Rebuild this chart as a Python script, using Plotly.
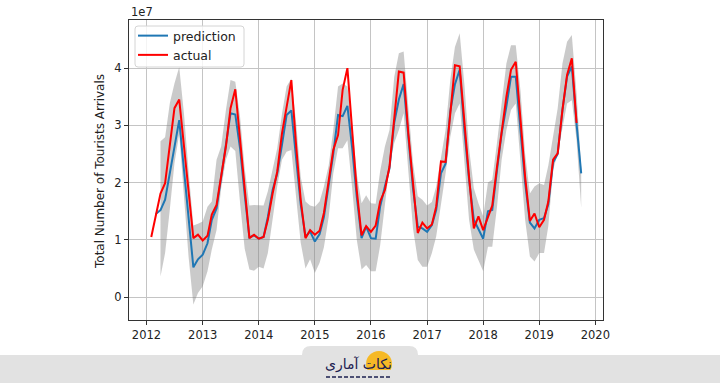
import pandas as pd
import plotly.graph_objects as go

# ---------------- data (values in units of 1e7) ----------------
ACTUAL_START = "2012-02-01"
PRED_START = "2012-03-01"
BAND_START = "2012-04-01"

actual = [
    1.05, 1.42, 1.81, 1.99, 2.65, 3.30, 3.45, 2.63, 1.84, 1.03, 1.09,            # 2012 Feb-Dec
    0.99, 1.07, 1.44, 1.61, 2.10, 2.63, 3.30, 3.63, 2.76, 1.90, 1.03, 1.09,      # 2013
    1.02, 1.05, 1.35, 1.81, 2.19, 2.86, 3.33, 3.79, 2.65, 1.70, 1.03, 1.17,      # 2014
    1.09, 1.16, 1.47, 1.99, 2.57, 2.83, 3.62, 4.00, 2.84, 1.86, 1.08, 1.24,      # 2015
    1.14, 1.25, 1.67, 1.87, 2.28, 3.09, 3.94, 3.92, 2.85, 2.00, 1.12, 1.30,      # 2016
    1.20, 1.27, 1.58, 2.37, 2.36, 3.21, 4.05, 4.03, 3.00, 2.10, 1.20, 1.41,      # 2017
    1.17, 1.41, 1.60, 2.28, 2.92, 3.50, 3.97, 4.11, 3.10, 2.10, 1.33, 1.46,      # 2018
    1.22, 1.35, 1.67, 2.40, 2.51, 3.27, 3.88, 4.17, 3.04,                        # 2019 Jan-Sep
]

prediction = [
    1.45, 1.52, 1.70, 2.16, 2.63, 3.09, 2.22, 1.38, 0.52, 0.66,                  # 2012 Mar-Dec
    0.74, 0.94, 1.35, 1.55, 2.10, 2.65, 3.21, 3.19, 2.60, 1.80, 1.04, 1.08,      # 2013
    1.02, 1.05, 1.40, 1.87, 2.16, 2.66, 3.18, 3.26, 2.45, 1.62, 1.05, 1.15,      # 2014
    0.97, 1.10, 1.40, 1.93, 2.50, 3.18, 3.16, 3.34, 2.60, 1.75, 1.03, 1.23,      # 2015
    1.03, 1.02, 1.58, 1.93, 2.25, 3.05, 3.45, 3.72, 2.75, 1.90, 1.23, 1.20,      # 2016
    1.14, 1.26, 1.52, 2.16, 2.33, 3.25, 3.72, 3.97, 2.90, 2.05, 1.35, 1.20,      # 2017
    1.02, 1.50, 1.52, 2.22, 2.86, 3.33, 3.85, 3.85, 2.95, 2.00, 1.30, 1.20,      # 2018
    1.35, 1.38, 1.62, 2.35, 2.50, 3.27, 3.85, 4.03, 3.02, 2.16,                  # 2019 Jan-Oct
]

band_upper = [
    2.72, 2.79, 3.39, 3.73, 4.02, 3.20, 2.20, 1.25, 1.28,                        # 2012 Apr-Dec
    1.32, 1.58, 1.67, 2.40, 2.63, 3.27, 3.79, 3.76, 3.15, 2.25, 1.60, 1.61,      # 2013
    1.61, 1.60, 1.85, 2.25, 2.60, 3.20, 3.68, 3.82, 3.05, 2.10, 1.67, 1.60,      # 2014
    1.58, 1.67, 1.93, 2.30, 2.92, 3.68, 3.73, 3.68, 3.00, 2.15, 1.64, 1.78,      # 2015
    1.64, 1.63, 2.20, 2.63, 2.92, 3.85, 4.26, 4.29, 3.30, 2.35, 1.76, 1.70,      # 2016
    1.60, 1.66, 1.93, 2.40, 2.92, 3.80, 4.37, 4.61, 3.70, 2.60, 1.90, 1.64,      # 2017
    1.41, 2.00, 2.05, 2.70, 3.40, 4.08, 4.40, 4.40, 3.60, 2.50, 1.81, 1.93,      # 2018
    1.99, 1.96, 2.30, 2.80, 3.30, 4.08, 4.46, 4.58, 3.55, 2.25,                  # 2019 Jan-Oct
]

band_lower = [
    0.36, 0.77, 1.54, 2.34, 2.85, 1.80, 0.70, -0.13, 0.07,                       # 2012 Apr-Dec
    0.19, 0.45, 0.83, 1.17, 1.90, 2.40, 2.63, 2.55, 1.65, 0.85, 0.48, 0.46,      # 2013
    0.53, 0.50, 0.77, 1.35, 1.93, 2.40, 2.54, 2.57, 1.80, 0.95, 0.50, 0.66,      # 2014
    0.42, 0.60, 0.87, 1.40, 2.16, 2.60, 2.60, 2.74, 1.90, 1.00, 0.48, 0.56,      # 2015
    0.45, 0.45, 0.90, 1.60, 2.30, 2.69, 2.92, 3.21, 2.15, 1.20, 0.65, 0.53,      # 2016
    0.53, 0.77, 1.06, 1.58, 2.16, 2.80, 3.21, 3.38, 2.30, 1.35, 0.83, 0.65,      # 2017
    0.45, 0.88, 0.88, 1.58, 2.40, 2.92, 3.27, 3.38, 2.35, 1.35, 0.71, 0.62,      # 2018
    0.77, 0.77, 1.24, 2.22, 2.51, 2.98, 3.38, 3.44, 2.74, 1.56,                  # 2019 Jan-Oct
]

year_ticks = ["2012", "2013", "2014", "2015", "2016", "2017", "2018", "2019", "2020"]
y_ticks = [0, 1, 2, 3, 4]

x_actual = pd.date_range(ACTUAL_START, periods=len(actual), freq="MS")
x_pred = pd.date_range(PRED_START, periods=len(prediction), freq="MS")
x_band = pd.date_range(BAND_START, periods=len(band_upper), freq="MS")

# ---------------- layout geometry ----------------
W, H = 720, 383
L, R, T, B = 129, 603, 20, 320
PW, PH = R - L, B - T


def px(X):
    return (X - L) / PW


def py(Y):
    return (B - Y) / PH


FONT = "DejaVu Sans"
fig = go.Figure()

# confidence band
fig.add_trace(go.Scatter(x=list(x_band), y=band_upper, mode="lines",
                         line=dict(width=0, color="rgba(0,0,0,0)"),
                         showlegend=False, hoverinfo="skip"))
fig.add_trace(go.Scatter(x=list(x_band), y=band_lower, mode="lines",
                         line=dict(width=0, color="rgba(0,0,0,0)"),
                         fill="tonexty", fillcolor="rgba(128,128,128,0.42)",
                         showlegend=False, hoverinfo="skip"))

fig.add_trace(go.Scatter(x=list(x_pred), y=prediction, mode="lines", name="prediction",
                         line=dict(color="#1f77b4", width=2)))
fig.add_trace(go.Scatter(x=list(x_actual), y=actual, mode="lines", name="actual",
                         line=dict(color="red", width=2)))

fig.update_layout(
    width=W, height=H,
    margin=dict(l=L, r=W - R, t=T, b=H - B, pad=0),
    paper_bgcolor="white", plot_bgcolor="white",
    font=dict(family=FONT, size=12, color="#222222"),
    showlegend=True,
    legend=dict(x=px(133), y=py(21), xanchor="left", yanchor="top",
                traceorder="normal",
                bgcolor="rgba(0,0,0,0)", borderwidth=0,
                font=dict(family=FONT, size=12.5, color="#222222"),
                tracegroupgap=0, itemwidth=30),
    xaxis=dict(
        range=["2011-09-09", "2020-02-20"],
        tickvals=[f"{y}-01-01" for y in year_ticks], ticktext=year_ticks,
        showgrid=True, gridcolor="#c4c4c4", gridwidth=1,
        ticks="outside", ticklen=4, tickcolor="#333333",
        showline=True, linecolor="#333333", linewidth=1.2, mirror=True,
        tickfont=dict(family=FONT, size=11.5, color="#222222"),
        zeroline=False,
    ),
    yaxis=dict(
        range=[-0.40, 4.84],
        tickvals=y_ticks, ticktext=[str(v) for v in y_ticks],
        showgrid=True, gridcolor="#c4c4c4", gridwidth=1,
        ticks="outside", ticklen=4, tickcolor="#333333",
        showline=True, linecolor="#333333", linewidth=1.2, mirror=True,
        tickfont=dict(family=FONT, size=11.5, color="#222222"),
        zeroline=False,
    ),
)

annotations = [
    dict(text="1e7", xref="paper", yref="paper", x=px(129), y=py(12),
         xanchor="left", yanchor="middle", showarrow=False,
         font=dict(family=FONT, size=11.5, color="#222222")),
    dict(text="Total Number of Tourists Arrivals", xref="paper", yref="paper",
         x=px(100), y=py(172), textangle=-90, xanchor="center", yanchor="middle",
         showarrow=False, font=dict(family=FONT, size=12, color="#222222")),
    dict(text="نکات آماری", xref="paper", yref="paper", x=px(358), y=py(364),
         xanchor="center", yanchor="middle", showarrow=False,
         font=dict(family=FONT, size=14, color="#1c2050")),
]


def rounded_path(x0, x1, y0, y1, r, bottom_round=True):
    X0, X1, Y0, Y1 = px(x0), px(x1), py(y0), py(y1)
    rx, ry = r / PW, r / PH
    if bottom_round:
        return (f"M {X0 + rx},{Y0} L {X1 - rx},{Y0} Q {X1},{Y0} {X1},{Y0 - ry} "
                f"L {X1},{Y1 + ry} Q {X1},{Y1} {X1 - rx},{Y1} L {X0 + rx},{Y1} "
                f"Q {X0},{Y1} {X0},{Y1 + ry} L {X0},{Y0 - ry} Q {X0},{Y0} {X0 + rx},{Y0} Z")
    return (f"M {X0},{Y1} L {X0},{Y0 - ry} Q {X0},{Y0} {X0 + rx},{Y0} "
            f"L {X1 - rx},{Y0} Q {X1},{Y0} {X1},{Y0 - ry} L {X1},{Y1} Z")


shapes = [
    # legend frame
    dict(type="path", xref="paper", yref="paper", path=rounded_path(135, 244, 26, 67, 3),
         fillcolor="rgba(255,255,255,0.82)", line=dict(color="#d4d4d4", width=1), layer="above"),
    # bottom banner + tab
    dict(type="rect", xref="paper", yref="paper", x0=px(-2), x1=px(W + 2), y0=py(355), y1=py(H + 2),
         fillcolor="#e2e2e2", line=dict(width=0), layer="above"),
    dict(type="path", xref="paper", yref="paper", path=rounded_path(302, 418, 346, H + 2, 9, False),
         fillcolor="#e2e2e2", line=dict(width=0), layer="above"),
    dict(type="circle", xref="paper", yref="paper", x0=px(366), x1=px(392), y0=py(351), y1=py(377),
         fillcolor="#f6b926", line=dict(width=0), layer="above"),
    dict(type="rect", xref="paper", yref="paper", x0=px(365), x1=px(393), y0=py(370), y1=py(378),
         fillcolor="#e2e2e2", line=dict(width=0), layer="above"),
    dict(type="line", xref="paper", yref="paper", x0=px(326), x1=px(392), y0=py(377), y1=py(377),
         line=dict(color="#1c2050", width=1.5, dash="4px,2px"), layer="above"),
]

fig.update_layout(annotations=annotations, shapes=shapes)
fig.write_html("out.html", config={"displayModeBar": False},
               post_script="document.body.style.margin='0';document.body.style.padding='0';")
